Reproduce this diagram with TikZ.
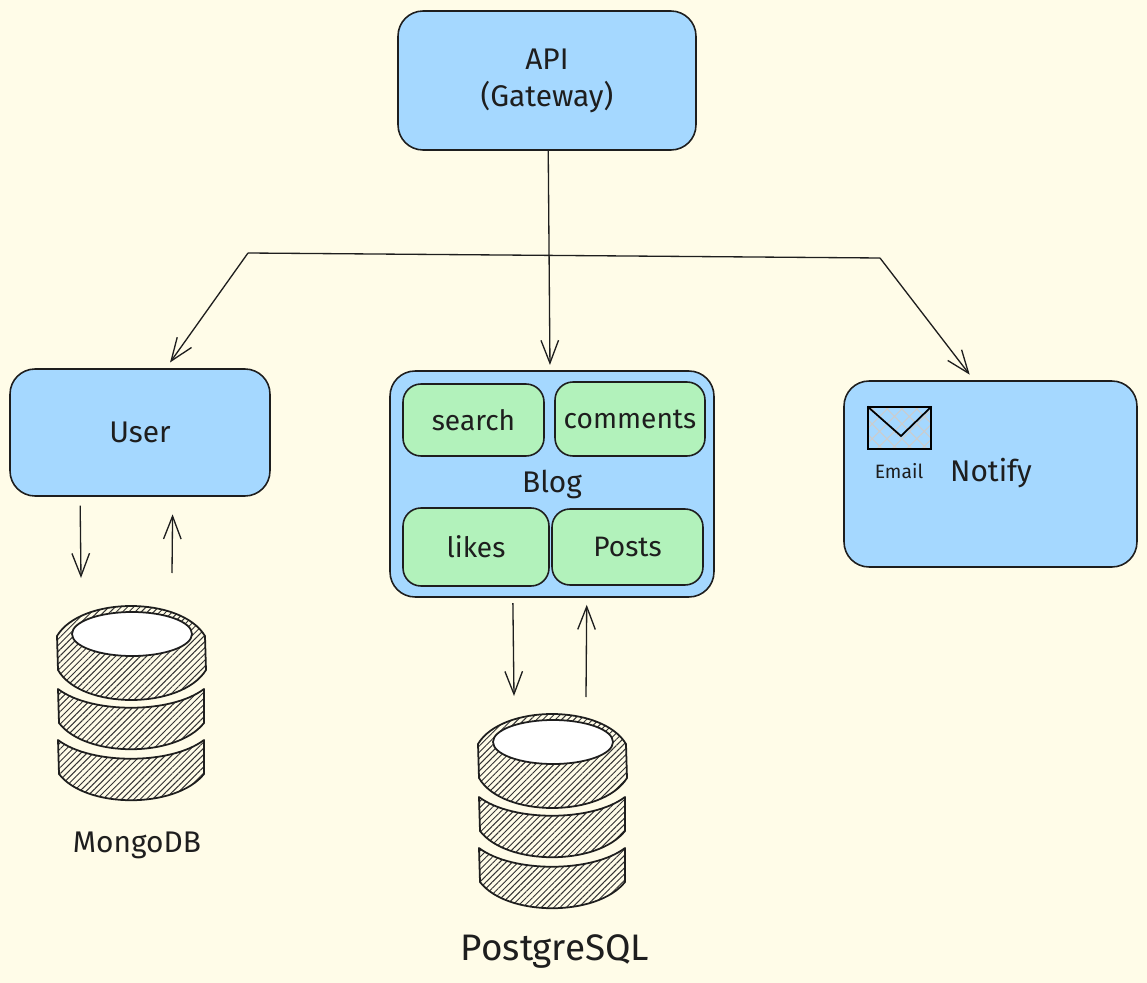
\documentclass[tikz,border=0pt]{standalone}
\usepackage{fontspec}
\setmainfont{Fira Sans}
\usetikzlibrary{arrows.meta,patterns.meta}
\definecolor{pagecream}{HTML}{FFFCE8}
\definecolor{boxblue}{HTML}{A5D8FF}
\definecolor{boxgreen}{HTML}{B2F2BB}
\definecolor{inkline}{HTML}{1E1E1E}
\tikzset{
    servicebox/.style={rectangle,draw=inkline,fill=boxblue,rounded corners=0.5cm,align=center,line width=0.9pt,text=inkline,font=\fontsize{17}{21}\selectfont},
    partbox/.style={rectangle,draw=inkline,fill=boxgreen,rounded corners=0.36cm,align=center,line width=0.9pt,text=inkline,font=\fontsize{16}{21}\selectfont},
    textlabel/.style={text=inkline,inner sep=0pt,font=\fontsize{17}{21}\selectfont},
    smalllabel/.style={text=inkline,inner sep=0pt,font=\fontsize{11}{13}\selectfont},
    biglabel/.style={text=inkline,inner sep=0pt,font=\fontsize{21}{25}\selectfont},
    linkline/.style={-{Straight Barb[length=13pt,width=10pt]},draw=inkline,line width=0.75pt},
    plainline/.style={draw=inkline,line width=0.75pt},
    diskshape/.style={draw=inkline,line width=1pt,line join=round,pattern={Lines[angle=45,distance=2.5pt,line width=0.55pt]},pattern color=black!80},
    envelope/.style={rectangle,draw=black,line width=1pt,minimum width=1.26cm,minimum height=0.84cm,inner sep=0pt,pattern={Hatch[angle=45,distance=6pt,line width=0.6pt]},pattern color=black!20},
    dbstack/.pic={
        \path[diskshape] (-74,-64) .. controls (-50,-104) and (50,-104) .. (74,-64) -- (75,-30) .. controls (50,10) and (-50,10) .. (-73,-30) -- cycle;
        \draw[draw=inkline,line width=1pt,fill=white] (1,-66) ellipse [x radius=60,y radius=22];
        \foreach \dy in {0,51}{
            \path[diskshape] (-73,-11+\dy) .. controls (-40,14+\dy) and (40,14+\dy) .. (73,-11+\dy) -- (73,23+\dy) .. controls (45,58+\dy) and (-45,58+\dy) .. (-72,23+\dy) -- cycle;
        }
    }
}
\begin{document}
\begin{tikzpicture}[x=0.02cm,y=-0.02cm]
    \fill[pagecream] (0,0) rectangle (1147,983);
    % services
    \node[servicebox,minimum width=5.96cm,minimum height=2.78cm] (api) at (547,80.5) {API\\(Gateway)};
    \node[servicebox,minimum width=5.2cm,minimum height=2.54cm] (user) at (140,432.5) {User};
    \node[servicebox,minimum width=6.48cm,minimum height=4.52cm] (blog) at (552,484) {Blog};
    \node[servicebox,minimum width=5.86cm,minimum height=3.72cm] (notify) at (990.5,474) {};
    % parts of blog
    \node[partbox,minimum width=2.82cm,minimum height=1.44cm] (search) at (473.5,420) {search};
    \node[partbox,minimum width=3.0cm,minimum height=1.48cm] (comments) at (630,419) {comments};
    \node[partbox,minimum width=2.92cm,minimum height=1.56cm] (likes) at (476,547) {likes};
    \node[partbox,minimum width=3.02cm,minimum height=1.52cm] (posts) at (627.5,547) {Posts};
    % notify content
    \node[envelope] (email) at (899.5,428) {};
    \coordinate (emailfold) at (901,436);
    \draw[black,line width=1pt] (email.north west) -- (emailfold) -- (email.north east);
    \node[smalllabel] (emailtext) at (899,471) {Email};
    \node[textlabel] (notifytext) at (991,473) {Notify};
    % databases
    \pic at (131,700) {dbstack};
    \pic at (552,808) {dbstack};
    \node[textlabel] (mongotext) at (137,845) {MongoDB};
    \node[biglabel] (postgrestext) at (555,951) {PostgreSQL};
    % gateway routing
    \coordinate (branchleft) at (248,253);
    \coordinate (branchright) at (880,258);
    \coordinate (mongoin) at (81,578);
    \coordinate (mongoout) at (172,573);
    \coordinate (postgresin) at (514,696);
    \coordinate (postgresout) at (586,697);
    \draw[linkline,shorten >=3pt] (api.-89) -- (blog.91.5);
    \draw[plainline] (branchleft) -- (branchright);
    \draw[linkline,shorten >=4pt] (branchleft) -- (user.68);
    \draw[linkline,shorten >=4pt] (branchright) -- (notify.100);
    \draw[linkline,shorten <=5pt] (user.-133) -- (mongoin);
    \draw[linkline,shorten >=10pt] (mongoout) -- (user.-63);
    \draw[linkline,shorten <=3pt] (blog.-109) -- (postgresin);
    \draw[linkline,shorten >=4pt] (postgresout) -- (blog.-73);
\end{tikzpicture}
\end{document}
